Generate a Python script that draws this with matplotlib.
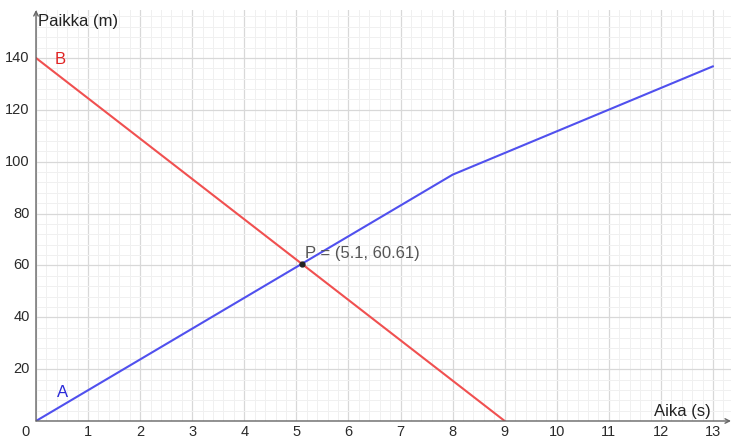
import numpy as np
import matplotlib
matplotlib.use("Agg")
import matplotlib.pyplot as plt

plt.rcParams['font.family'] = ['Liberation Sans', 'DejaVu Sans']

# data
a_time = [0, 8, 13]
a_pos = [0, 95, 136.8]
b_time = [0, 9]
b_pos = [140, 0]
p_point = (5.1, 60.61)
x_ticks = list(range(1, 14))
y_ticks = [20, 40, 60, 80, 100, 120, 140]

W, H = 731, 438
fig = plt.figure(figsize=(W / 100, H / 100), dpi=100)
x0, y0 = 36, 421   # pixel of origin
ytop = 10
ax = fig.add_axes([x0 / W, (H - y0) / H, (W - x0) / W, (y0 - ytop) / H])

xs = 52.08   # px per second
ys = 2.593   # px per metre
ax.set_xlim(0, (W - x0) / xs)
ax.set_ylim(0, (y0 - ytop) / ys)

# grid
ax.set_xticks(np.arange(0, 14, 1))
ax.set_yticks(np.arange(0, 160, 20))
ax.set_xticks(np.arange(0, 13.4, 0.2), minor=True)
ax.set_yticks(np.arange(0, 160, 4), minor=True)
ax.grid(which='major', color='#d8d8d8', lw=0.9)
ax.grid(which='minor', color='#f0f0f0', lw=0.7)
ax.set_axisbelow(True)
ax.tick_params(which='both', length=0, labelbottom=False, labelleft=False)
for s in ax.spines.values():
    s.set_visible(False)

# axes with arrows
ax.annotate('', xy=(1.0, 0), xytext=(0, 0), xycoords='axes fraction',
            arrowprops=dict(arrowstyle='->', color='#666666', lw=1.0,
                            shrinkA=0, shrinkB=0, mutation_scale=8))
ax.annotate('', xy=(0, 1.0), xytext=(0, 0), xycoords='axes fraction',
            arrowprops=dict(arrowstyle='->', color='#666666', lw=1.0,
                            shrinkA=0, shrinkB=0, mutation_scale=8))

# tick labels
for t in x_ticks:
    ax.text(t, -4.4, str(t), ha='center', va='center', fontsize=10.5,
            color='#2a2a2a', clip_on=False)
for t in y_ticks:
    ax.text(-0.12, t, str(t), ha='right', va='center', fontsize=10.5,
            color='#2a2a2a', clip_on=False)
ax.text(-0.2, -4.4, '0', ha='center', va='center', fontsize=10.5,
        color='#2a2a2a', clip_on=False)

# axis labels
ax.text(0.03, 154, 'Paikka (m)', ha='left', va='center', fontsize=12,
        color='#222222', clip_on=False)
ax.text(12.95, 3.5, 'Aika (s)', ha='right', va='center', fontsize=12,
        color='#222222', clip_on=False)

# lines
ax.plot(a_time, a_pos, color='#5050ee', lw=1.5, solid_capstyle='round')
ax.plot(b_time, b_pos, color='#f05050', lw=1.5, solid_capstyle='round')
ax.text(0.5, 11, 'A', color='#2a2ad8', fontsize=12, ha='center', va='center')
ax.text(0.47, 139.5, 'B', color='#e02424', fontsize=12, ha='center', va='center')

# intersection point
ax.plot([p_point[0]], [p_point[1]], 'o', color='#222222', ms=3.5, zorder=5)
ax.text(p_point[0] + 0.06, p_point[1] + 3.8,
        f'P = ({p_point[0]}, {p_point[1]})', fontsize=12, color='#555555',
        ha='left', va='center')

fig.savefig('out.png', dpi=100)
